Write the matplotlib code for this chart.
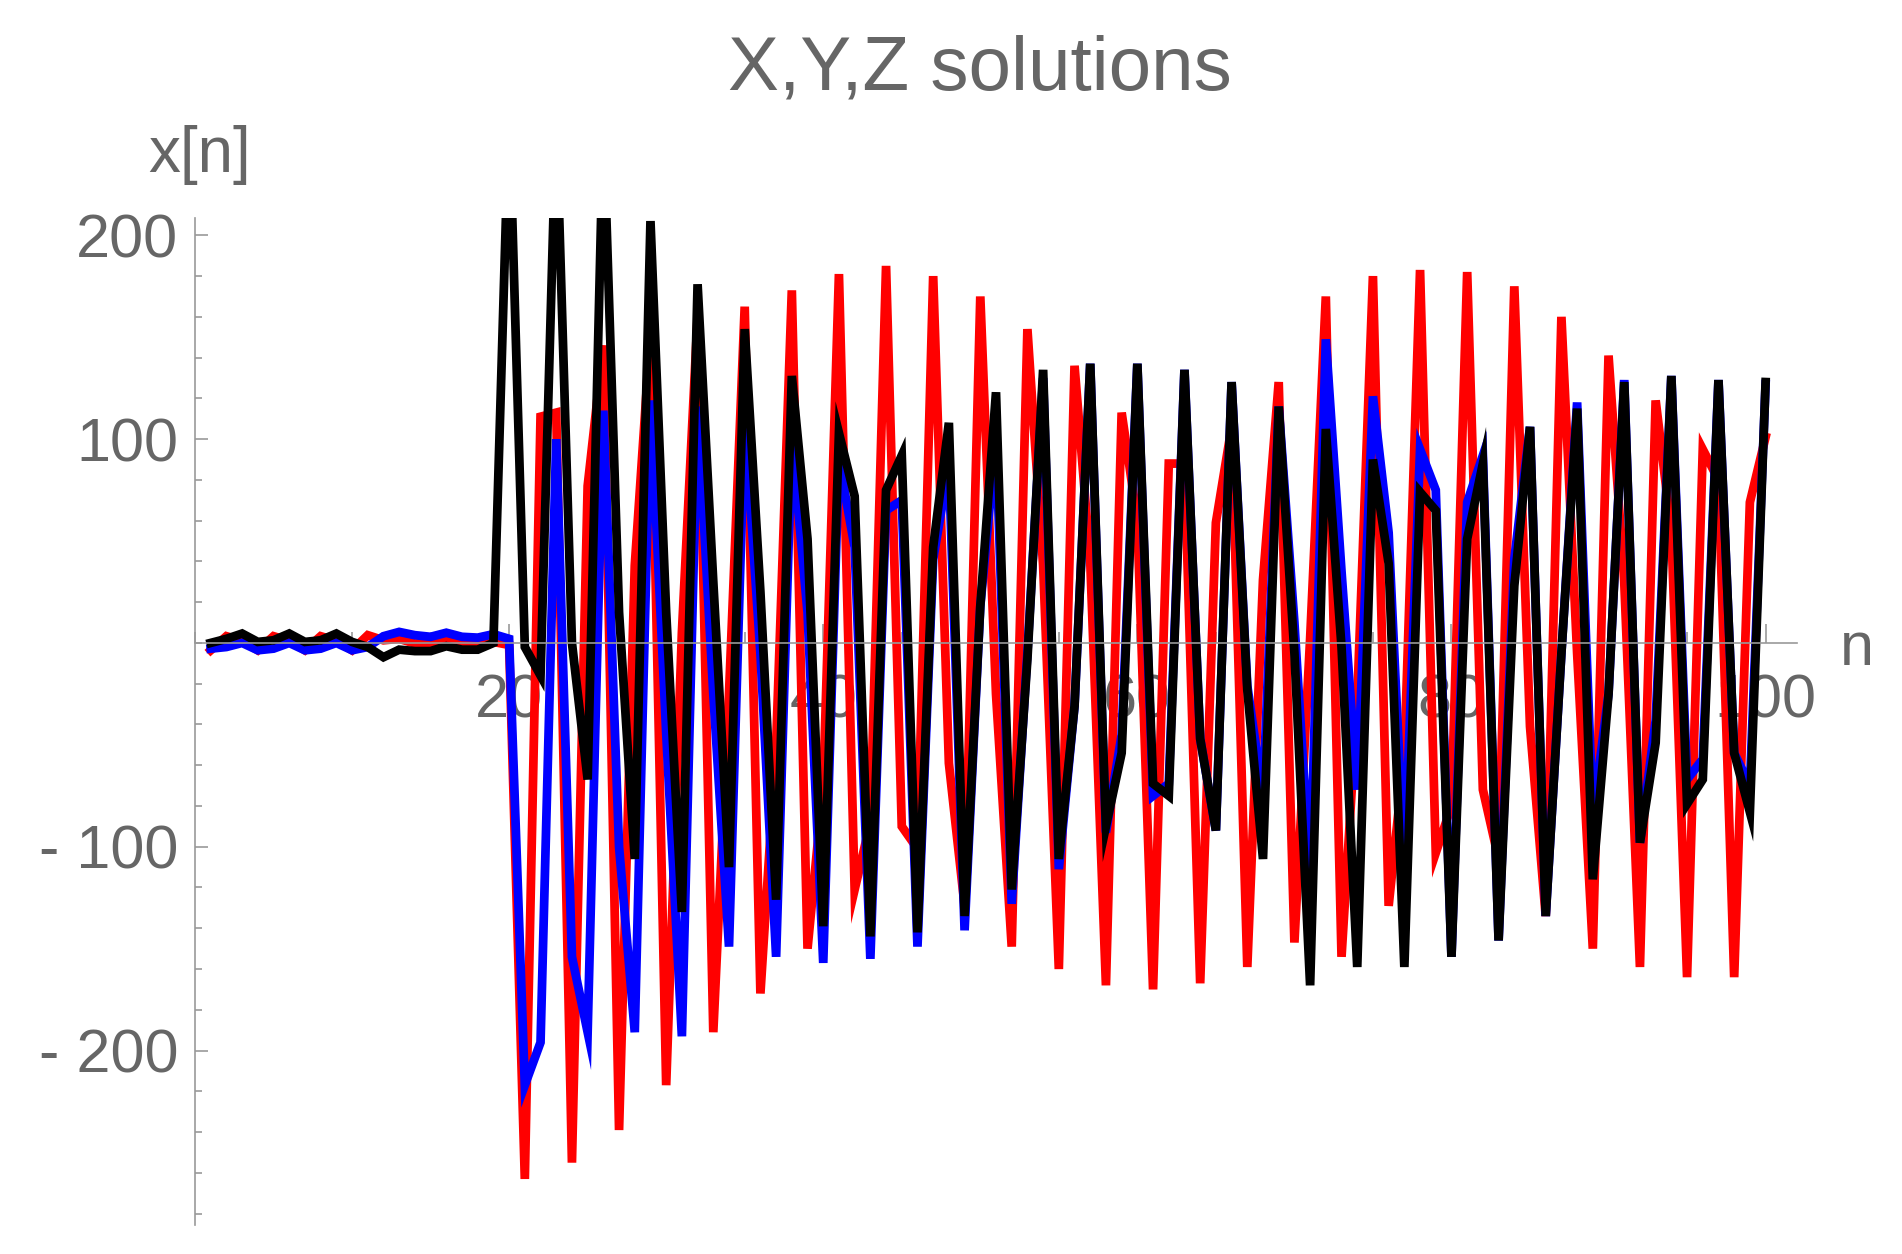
import matplotlib
matplotlib.use("Agg")
import matplotlib.pyplot as plt
from matplotlib.ticker import MultipleLocator, FixedLocator

# data, n = 1..100
n = list(range(1, 101))

red = [-3.6, 3.3, 1, -3.6, 3.3, 1, -3.6, 3.3, 1, -3.6,
       3.8, 1.3, 2, -0.3, 0, 1.3, -0.3, 0, 0.5, -1,
       -263, 111, 113, -255, 77, 146, -239, 38, 152, -217,
       5, 160, -191, -25, 165, -172, -50, 173, -150, -70,
       181, -121, -88, 185, -90, -101, 180, -59, -129, 170,
       -25, -149, 154, 38, -160, 136, 40, -168, 113, 60,
       -170, 88, 88, -167, 59, 106, -159, 31, 128, -147,
       2, 170, -154, -28, 180, -129, -55, 183, -103, -80,
       182, -72, -106, 175, -41, -134, 160, -5, -150, 141,
       30, -159, 119, 55, -164, 95, 80, -164, 69, 101]

blue = [-2.8, -2, 0, -3.6, -2.8, 0, -3.6, -2.8, 0, -3.6,
        -2, 3.3, 5.4, 3.8, 3, 5, 3, 2.6, 4.3, 2,
        -217, -196, 100, -154, -191, 114, -100, -191, 119, -44,
        -193, 116, -25, -149, 110, -5, -154, 100, 15, -157,
        90, 47, -155, 65, 70, -149, 41, 87, -141, 18,
        100, -128, -5, 130, -111, -31, 137, -93, -45, 137,
        -75, -69, 134, -47, -92, 128, -21, -75, 116, 10,
        -115, 149, 35, -72, 121, 54, -110, 95, 75, -154,
        69, 92, -146, 41, 106, -134, -5, 118, -85, -25,
        129, -98, -38, 131, -67, -57, 129, -54, -70, 127]

black = [0, 2, 4.6, 0.5, 1.3, 4.6, 0.5, 1.3, 4.6, 0.5,
         -2, -7, -3.3, -4, -4, -1.6, -3.3, -3.3, 0, 262,
         -2, -16, 258, 0, -67, 255, 15, -106, 207, 15,
         -132, 176, 30, -110, 154, 25, -126, 131, 51, -139,
         103, 72, -144, 75, 92, -142, 47, 108, -134, 18,
         123, -121, -8, 134, -106, -31, 137, -90, -54, 137,
         -69, -75, 134, -47, -92, 128, -23, -106, 116, -5,
         -168, 105, -2, -159, 90, 39, -159, 74, 65, -154,
         51, 88, -146, 28, 106, -134, -5, 115, -116, -25,
         128, -98, -49, 131, -79, -67, 129, -54, -83, 128]

yticks = [200, 100, -100, -200]
ylabels = ["200", "100", "- 100", "- 200"]
xticks = [20, 40, 60, 80, 100]

plt.rcParams['font.family'] = ['Liberation Sans', 'DejaVu Sans']
label_gray = "#666666"
axis_gray = "#999999"

W, H = 1902, 1254
fig = plt.figure(figsize=(W / 100, H / 100), dpi=100)
ax = fig.add_axes([195 / W, (H - 1225) / H, 1602 / W, 1007 / H])

for vals, col in [(red, "#ff0000"), (blue, "#0000ff"), (black, "#000000")]:
    ax.plot(n, vals, color=col, lw=6.3, solid_joinstyle="miter")

ax.set_xlim(0, 102)
ax.set_ylim(-285.6, 208.5)

for s in ["top", "right"]:
    ax.spines[s].set_visible(False)
ax.spines["bottom"].set_position(("data", 0))
ax.spines["left"].set_position(("data", 0))
for s in ["bottom", "left"]:
    ax.spines[s].set_color(axis_gray)
    ax.spines[s].set_linewidth(1.2)

ax.xaxis.set_major_locator(FixedLocator(xticks))
ax.xaxis.set_minor_locator(MultipleLocator(5))
ax.yaxis.set_major_locator(FixedLocator(yticks))
ax.set_yticklabels(ylabels)
ax.yaxis.set_minor_locator(MultipleLocator(20))

ax.tick_params(axis="both", which="both", direction="in", color=axis_gray,
               labelcolor=label_gray, labelsize=44, width=1.2)
ax.tick_params(axis="x", which="major", length=14, pad=22)
ax.tick_params(axis="x", which="minor", length=8)
ax.tick_params(axis="y", which="major", length=9, pad=12)
ax.tick_params(axis="y", which="minor", length=5)

fig.text(980 / W, 1 - 70 / H, "X,Y,Z solutions", ha="center", va="center",
         fontsize=55, color=label_gray)
fig.text(200 / W, 1 - 155 / H, "x[n]", ha="center", va="center",
         fontsize=46, color=label_gray)
fig.text(1840 / W, 1 - 649 / H, "n", ha="left", va="center",
         fontsize=44, color=label_gray)

fig.savefig("out.png", dpi=100)
